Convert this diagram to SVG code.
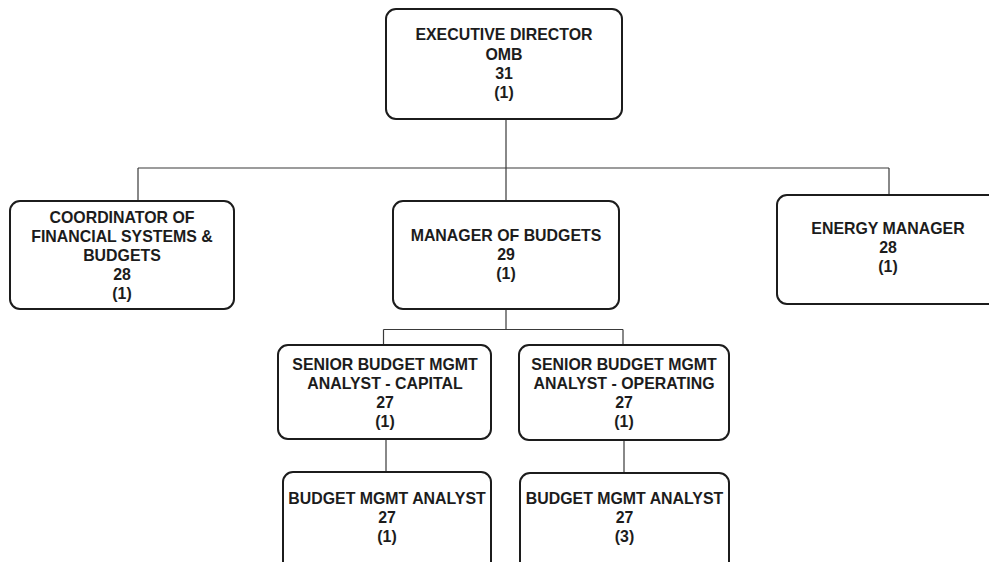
<svg xmlns="http://www.w3.org/2000/svg" width="989" height="562" viewBox="0 0 989 562">
  <style>
    .box { fill: #ffffff; stroke: #1c1c1c; stroke-width: 2; }
    .link { fill: none; stroke: #3a3a3a; stroke-width: 1.2; }
    .lbl { font-family: "Liberation Sans", Arial, sans-serif; font-weight: bold; font-size: 15.9px; fill: #1c1c1c; text-anchor: middle; }
  </style>
  <rect width="989" height="562" fill="#ffffff"/>

  <g id="connectors">
    <path class="link" d="M506 120 V168 M138 168 H889 M138 168 V201 M506 168 V201 M889 168 V195"/>
    <path class="link" d="M506 309 V329.5 M383.5 329.5 H623 M383.5 329.5 V345 M623 329.5 V345"/>
    <path class="link" d="M386 439 V472 M624 440 V473"/>
  </g>

  <g id="executive-director">
    <rect class="box" x="386" y="9" width="236" height="110" rx="10"/>
    <text class="lbl" x="504" y="40">EXECUTIVE DIRECTOR</text>
    <text class="lbl" x="504" y="59.5">OMB</text>
    <text class="lbl" x="504" y="79">31</text>
    <text class="lbl" x="504" y="98">(1)</text>
  </g>

  <g id="coordinator">
    <rect class="box" x="10" y="201" width="224" height="108" rx="10"/>
    <text class="lbl" x="122" y="222.5">COORDINATOR OF</text>
    <text class="lbl" x="122" y="242">FINANCIAL SYSTEMS &amp;</text>
    <text class="lbl" x="122" y="261">BUDGETS</text>
    <text class="lbl" x="122" y="280">28</text>
    <text class="lbl" x="122" y="299">(1)</text>
  </g>

  <g id="manager-of-budgets">
    <rect class="box" x="393" y="201" width="226" height="108" rx="10"/>
    <text class="lbl" x="506" y="241">MANAGER OF BUDGETS</text>
    <text class="lbl" x="506" y="260">29</text>
    <text class="lbl" x="506" y="279">(1)</text>
  </g>

  <g id="energy-manager">
    <rect class="box" x="777" y="195" width="230" height="109" rx="10"/>
    <text class="lbl" x="888" y="234">ENERGY MANAGER</text>
    <text class="lbl" x="888" y="253">28</text>
    <text class="lbl" x="888" y="272">(1)</text>
  </g>

  <g id="senior-analyst-capital">
    <rect class="box" x="278" y="345" width="213" height="94" rx="10"/>
    <text class="lbl" x="385" y="369.5">SENIOR BUDGET MGMT</text>
    <text class="lbl" x="385" y="389">ANALYST - CAPITAL</text>
    <text class="lbl" x="385" y="408">27</text>
    <text class="lbl" x="385" y="427">(1)</text>
  </g>

  <g id="senior-analyst-operating">
    <rect class="box" x="519" y="345" width="210" height="95" rx="10"/>
    <text class="lbl" x="624" y="369.5">SENIOR BUDGET MGMT</text>
    <text class="lbl" x="624" y="389">ANALYST - OPERATING</text>
    <text class="lbl" x="624" y="408">27</text>
    <text class="lbl" x="624" y="427">(1)</text>
  </g>

  <g id="budget-analyst-capital">
    <rect class="box" x="283" y="472" width="208" height="110" rx="10"/>
    <text class="lbl" x="387" y="504">BUDGET MGMT ANALYST</text>
    <text class="lbl" x="387" y="523">27</text>
    <text class="lbl" x="387" y="542">(1)</text>
  </g>

  <g id="budget-analyst-operating">
    <rect class="box" x="520" y="473" width="209" height="110" rx="10"/>
    <text class="lbl" x="624.5" y="504">BUDGET MGMT ANALYST</text>
    <text class="lbl" x="624.5" y="523">27</text>
    <text class="lbl" x="624.5" y="542">(3)</text>
  </g>
</svg>
